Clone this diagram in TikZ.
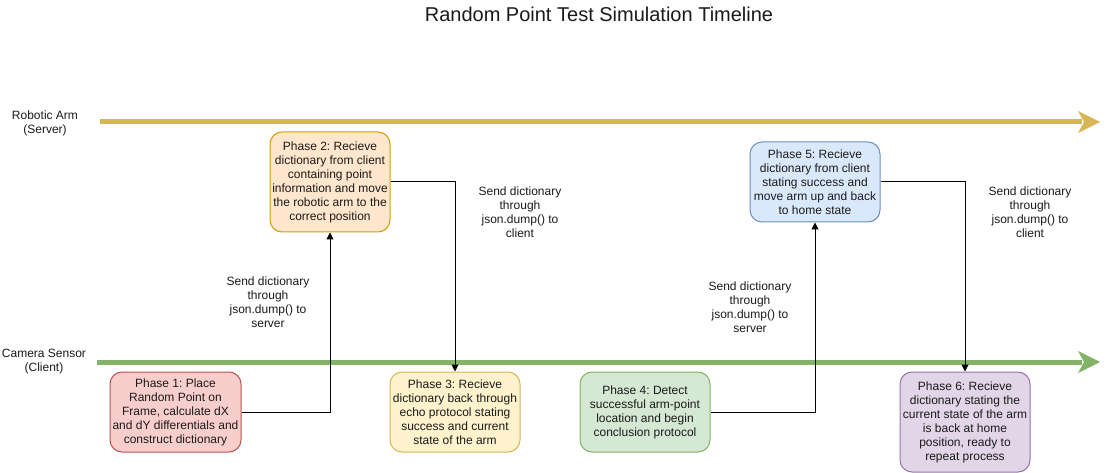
\documentclass[tikz,border=0pt]{standalone}
\usepackage{fontspec}
\setmainfont{Liberation Sans}
\usetikzlibrary{arrows.meta}
\definecolor{armline}{HTML}{D6B656}
\definecolor{camline}{HTML}{82B366}
\definecolor{pAfill}{HTML}{F8CECC}\definecolor{pAdraw}{HTML}{B85450}
\definecolor{pBfill}{HTML}{FFE6CC}\definecolor{pBdraw}{HTML}{D79B00}
\definecolor{pCfill}{HTML}{FFF2CC}\definecolor{pCdraw}{HTML}{D6B656}
\definecolor{pDfill}{HTML}{D5E8D4}\definecolor{pDdraw}{HTML}{82B366}
\definecolor{pEfill}{HTML}{DAE8FC}\definecolor{pEdraw}{HTML}{6C8EBF}
\definecolor{pFfill}{HTML}{E1D5E7}\definecolor{pFdraw}{HTML}{9673A6}
\definecolor{txt}{HTML}{1A1A1A}
\frenchspacing
\begin{document}
\begin{tikzpicture}[x=1pt,y=-1pt,
  phasebox/.style={rounded corners=12pt, draw, line width=1pt, minimum width=#1pt, align=center, inner sep=0pt, font=\fontsize{12}{14}\selectfont, text=txt},
  phasebox/.default=130,
  lbl/.style={align=center, font=\fontsize{12}{14}\selectfont, text=txt, inner sep=0pt},
  msg/.style={-{Triangle[length=7pt,width=7pt]}, line width=1pt, black},
  lane/.style={line width=5pt}
]
\useasboundingbox (0,0) rectangle (1112,473);
% title
\node[font=\fontsize{20}{24}\selectfont, text=txt] (title) at (599,14) {Random Point Test Simulation Timeline};
% lanes
\coordinate (armS) at (100,122);
\coordinate (armE) at (1082,122);
\coordinate (camS) at (97,362);
\coordinate (camE) at (1082,362);
\draw[lane, armline] (armS) -- (armE);
\fill[armline] (1100,122) -- (1078,111) -- (1084,122) -- (1078,133) -- cycle;
\draw[lane, camline] (camS) -- (camE);
\fill[camline] (1100,362) -- (1078,351) -- (1084,362) -- (1078,373) -- cycle;
\node[lbl] (armlbl) at (45,123) {Robotic Arm\\(Server)};
\node[lbl] (camlbl) at (44,362) {Camera Sensor\\(Client)};
% phases
\node[phasebox=131, fill=pAfill, draw=pAdraw, minimum height=80pt] (p1) at (175.5,412) {Phase 1: Place\\Random Point on\\Frame, calculate dX\\and dY differentials and\\construct dictionary};
\node[phasebox=120, fill=pBfill, draw=pBdraw, minimum height=100pt] (p2) at (330,182) {Phase 2: Recieve\\dictionary from client\\containing point\\information and move\\the robotic arm to the\\correct position};
\node[phasebox=130, fill=pCfill, draw=pCdraw, minimum height=80pt] (p3) at (455,412) {Phase 3: Recieve\\dictionary back through\\echo protocol stating\\success and current\\state of the arm};
\node[phasebox=130, fill=pDfill, draw=pDdraw, minimum height=80pt] (p4) at (645,412) {Phase 4: Detect\\successful arm-point\\location and begin\\conclusion protocol};
\node[phasebox=130, fill=pEfill, draw=pEdraw, minimum height=80pt] (p5) at (815,182) {Phase 5: Recieve\\dictionary from client\\stating success and\\move arm up and back\\to home state};
\node[phasebox=130, fill=pFfill, draw=pFdraw, minimum height=100pt] (p6) at (965,422) {Phase 6: Recieve\\dictionary stating the\\current state of the arm\\is back at home\\position, ready to\\repeat process};
% labels
\node[lbl] (m1) at (268,302) {Send dictionary\\through\\json.dump() to\\server};
\node[lbl] (m2) at (520,212) {Send dictionary\\through\\json.dump() to\\client};
\node[lbl] (m3) at (750,307) {Send dictionary\\through\\json.dump() to\\server};
\node[lbl] (m4) at (1030,212) {Send dictionary\\through\\json.dump() to\\client};
% connectors
\draw[msg] (p1.east) -| (p2.south);
\draw[msg] (p2.east) -| (p3.north);
\draw[msg] (p4.east) -| (p5.south);
\draw[msg] (p5.east) -| (p6.north);
\end{tikzpicture}
\end{document}
